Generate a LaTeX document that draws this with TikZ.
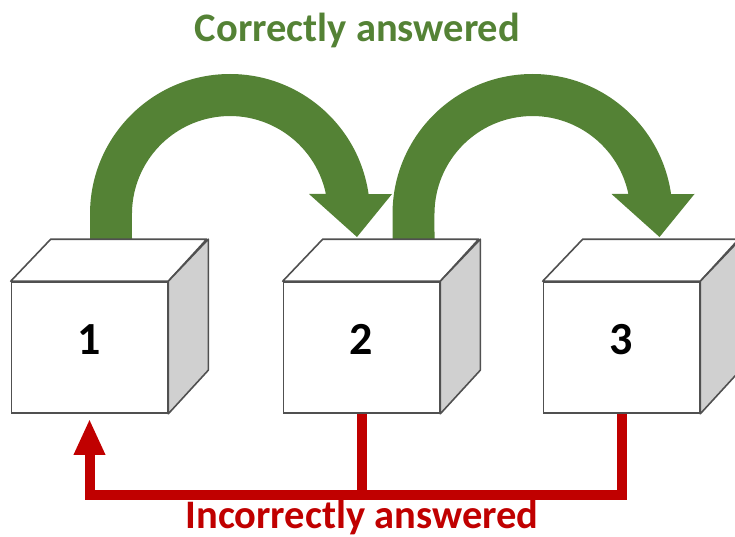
\documentclass[tikz,border=0pt]{standalone}
\usepackage{fontspec}
\setmainfont{Carlito}
\usetikzlibrary{arrows.meta,calc}
\definecolor{ggreen}{HTML}{548235}
\definecolor{rred}{HTML}{C00000}
\definecolor{sidegray}{HTML}{D0D0D0}
\definecolor{edgegray}{HTML}{505050}
\tikzset{
  front/.style={rectangle, draw=edgegray, line width=1.6pt, fill=white,
    minimum width=156pt, minimum height=131pt, inner sep=0pt,
    font=\bfseries\fontsize{46}{46}\selectfont, text depth=16pt},
  face/.style={draw=edgegray, line width=1.6pt, line join=round},
  redline/.style={draw=rred, line width=10pt},
  garrow/.pic={
    \fill[ggreen] (-140,26) -- (-140,0) arc[start angle=180, end angle=351.8, radius=140]
      -- (162,-20) -- (127,23) -- (79,-20) -- (95.9,-20)
      arc[start angle=348.2, end angle=180, radius=98] -- (-98,26) -- cycle;
  },
  title/.style={font=\bfseries\fontsize{40.5}{40.5}\selectfont, anchor=base, inner sep=0pt}
}
\begin{document}
\begin{tikzpicture}[x=1pt, y=-1pt]
\useasboundingbox (0,0) rectangle (735,537);
% green arrows
\pic at (230,214) {garrow};
\pic at (532.5,214) {garrow};
% boxes
\foreach \n/\x/\t in {b1/89.5/1, b2/361.5/2, b3/621.5/3}{
  \node[front] (\n) at (\x,347.5) {\t};
  \filldraw[face, fill=white] (\n.north west) -- ++(40,-42) -- ++(156,0) -- (\n.north east) -- cycle;
  \filldraw[face, fill=sidegray] (\n.north east) -- ++(40,-42) -- ++(0,131) -- (\n.south east) -- cycle;
}
% red connectors
\coordinate (bus) at (361.5,494.5);
\draw[redline, -{Triangle[width=29pt,length=36pt]}, shorten >=5pt]
  (b3.south) -- (b3.south |- bus) -| (b1.south);
\draw[redline] (b2.south) -- (b2.south |- bus);
% labels
\node[title, text=ggreen] (tc) at (357.5,42) {Correctly answered};
\node[title, text=rred] (ti) at (362,528) {Incorrectly answered};
\end{tikzpicture}
\end{document}
